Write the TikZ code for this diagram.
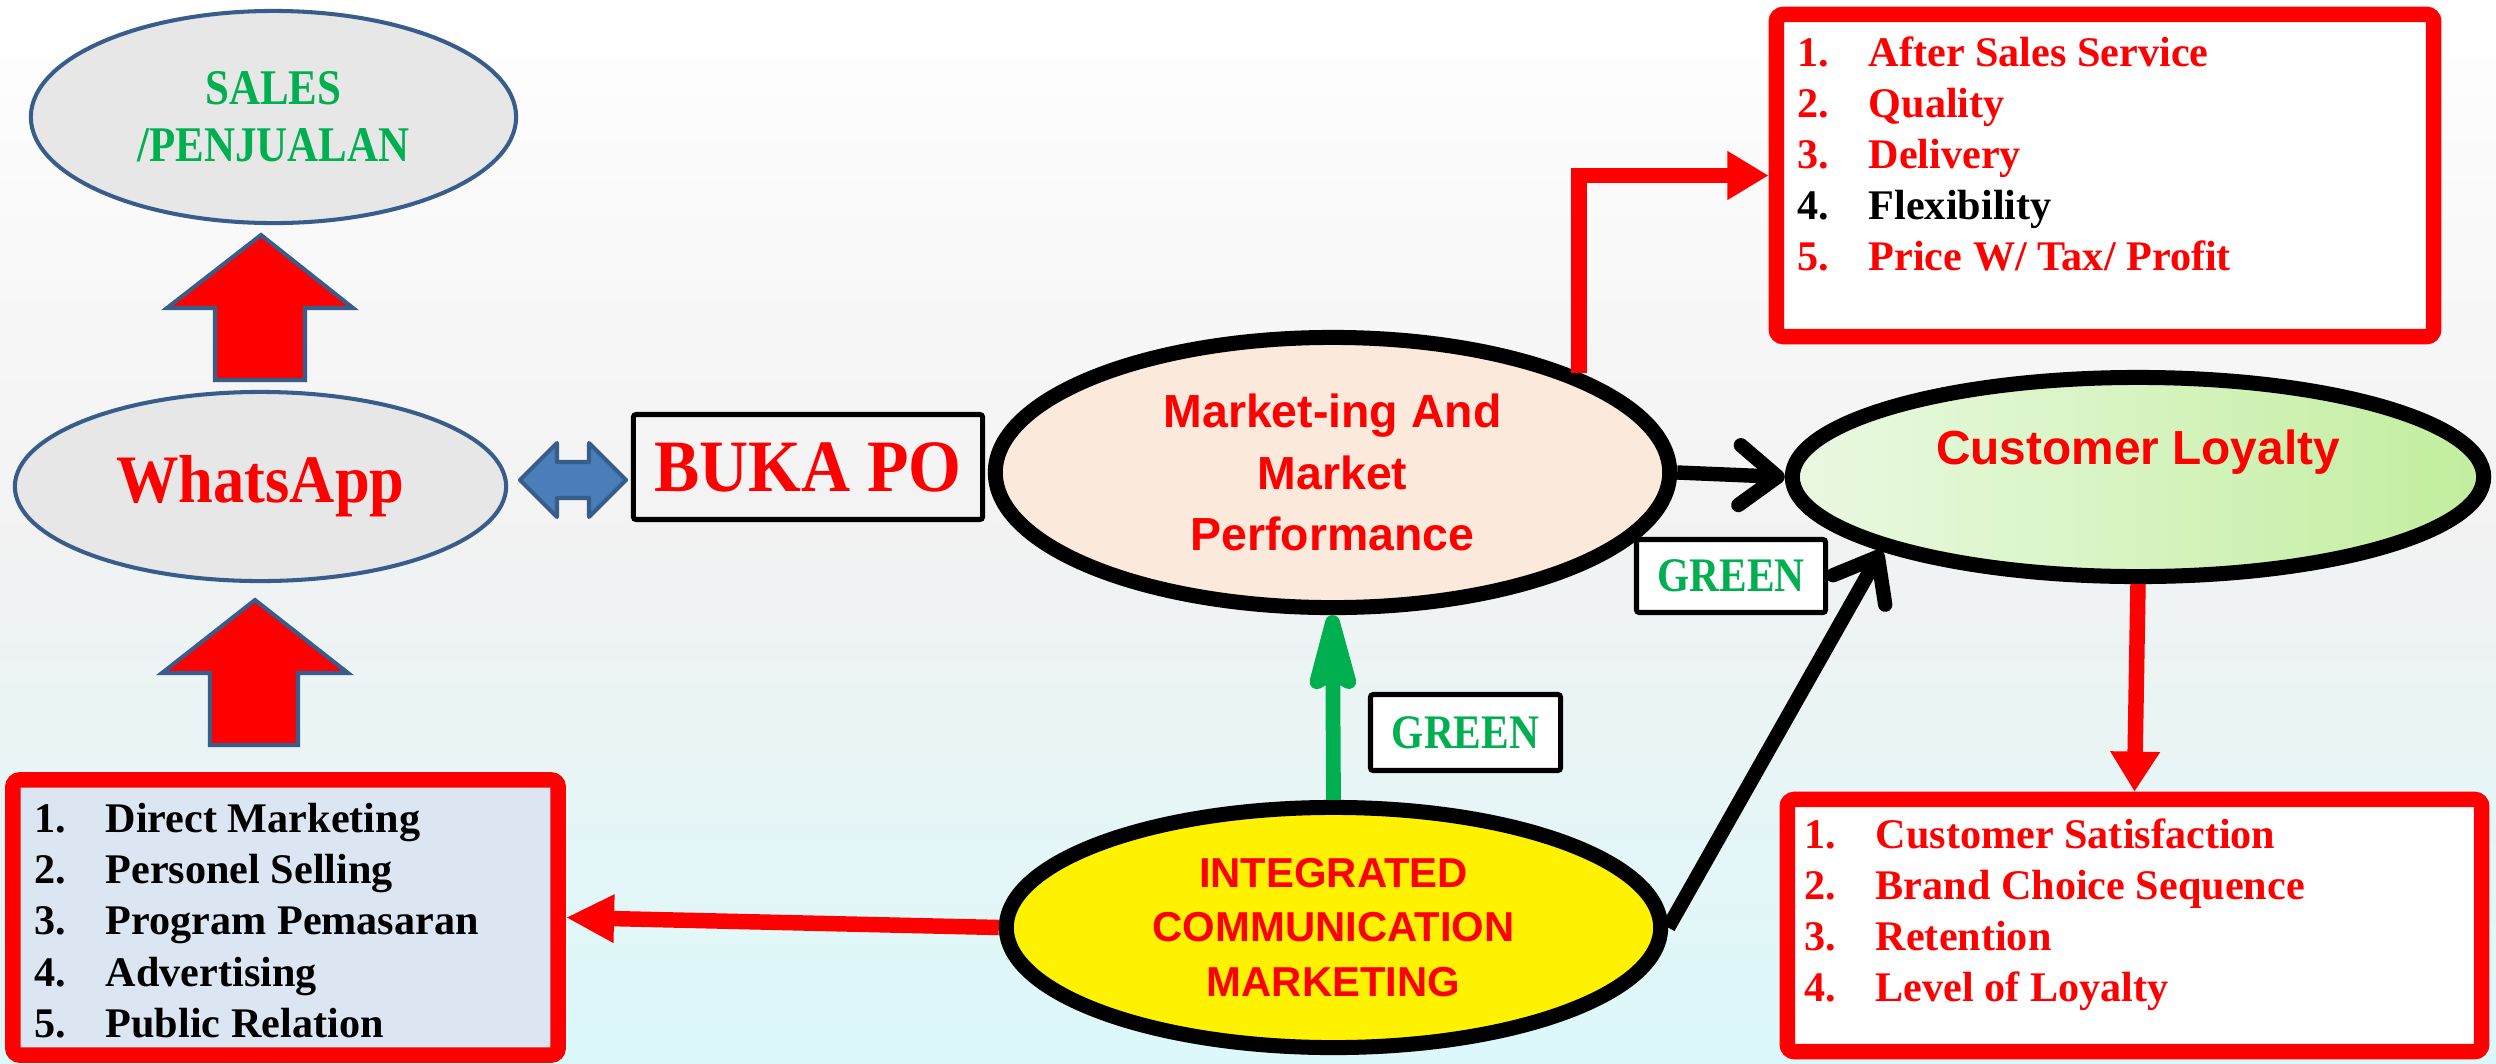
\documentclass[tikz,border=0pt]{standalone}
\usepackage{fontspec}
\setmainfont{Liberation Serif}
\setsansfont{Liberation Sans}
\newfontfamily\condA{Liberation Serif}[FakeStretch=0.86]
\newfontfamily\condB{Liberation Serif}[FakeStretch=0.92]
\usetikzlibrary{shapes.geometric,arrows.meta}
\definecolor{myred}{RGB}{255,0,0}
\definecolor{mygreen}{RGB}{0,176,80}
\definecolor{edgeblue}{RGB}{56,93,138}
\definecolor{fillblue}{RGB}{74,126,187}
\definecolor{ovalgray}{RGB}{231,231,231}
\definecolor{peach}{RGB}{251,234,219}
\definecolor{boxblue}{RGB}{220,230,242}
\definecolor{clleft}{RGB}{234,249,226}
\definecolor{clright}{RGB}{194,238,158}
\definecolor{bgtop}{RGB}{255,255,255}
\definecolor{bgmid}{RGB}{242,242,242}
\definecolor{bgbot}{RGB}{220,248,250}
\begin{document}
\begin{tikzpicture}[x=0.01cm,y=-0.01cm,
  grayoval/.style={ellipse, draw=edgeblue, line width=1.15pt, fill=ovalgray, inner sep=0pt, align=center},
  bigoval/.style={ellipse, draw=black, line width=4.27pt, inner sep=0pt, align=center},
  redbox/.style={draw=myred, line width=4.4pt, rounded corners=2pt, inner sep=0pt},
  labelbox/.style={draw=black, line width=1.45pt, fill=white, inner sep=0pt, rounded corners=0.8pt},
  blockarrow/.style={draw=edgeblue, fill=myred, line width=1.15pt, line join=miter},
  dblarrow/.style={draw=edgeblue, fill=fillblue, line width=1.15pt, line join=round},
  redline/.style={draw=myred, line width=4.4pt},
  blackarrow/.style={draw=black, line width=4.1pt, -{Straight Barb[length=10.8pt,width=17pt,round]}},
  greenarrow/.style={draw=mygreen, line width=4.2pt, -{Stealth[length=29pt,width=15pt,inset=4pt,round]}},
  listtext/.style={font=\bfseries\fontsize{12}{14.5}\selectfont, anchor=base west, inner sep=0pt},
  greentext/.style={font=\condA\bfseries\fontsize{13.7}{16}\selectfont, text=mygreen}
]
% background: white at the top, light grey in the middle, light cyan at the bottom
\useasboundingbox (0,0) rectangle (2496,1063);
\foreach \i in {0,...,52} {
  \pgfmathsetmacro\ya{\i*20.06}
  \pgfmathsetmacro\yb{\ya+21.5}
  \pgfmathtruncatemacro\pa{max(0,100-\i*100/26)}
  \pgfmathtruncatemacro\pb{max(0,(\i-26)*100/26)}
  \ifnum\i<26
    \fill[bgtop!\pa!bgmid] (0,\ya) rectangle (2496,\yb);
  \else
    \fill[bgbot!\pb!bgmid] (0,\ya) rectangle (2496,\yb);
  \fi
}

% left column ovals
\node[grayoval, minimum width=4.85cm, minimum height=2.12cm, text=mygreen,
      font=\condA\bfseries\fontsize{14.2}{16.2}\selectfont] (sales) at (273.5,117) {SALES\\/PENJUALAN};
\node[grayoval, minimum width=4.91cm, minimum height=1.89cm, text=myred,
      font=\condB\bfseries\fontsize{19.3}{22}\selectfont] (wa) at (260.5,486.5) {WhatsApp};

% block arrows
\draw[blockarrow] (261,235) -- (353,308) -- (305,308) -- (305,380) -- (215,380) -- (215,308) -- (167,308) -- cycle;
\draw[blockarrow] (255,600) -- (348,673) -- (298,673) -- (298,745) -- (210,745) -- (210,673) -- (162,673) -- cycle;

% double arrow
\draw[dblarrow] (520,480) -- (557,443) -- (557,462) -- (589,462) -- (589,443) -- (626,480)
  -- (589,517) -- (589,498) -- (557,498) -- (557,517) -- cycle;

% BUKA PO
\node[draw=black, line width=1.45pt, inner sep=0pt, rounded corners=0.8pt, minimum width=3.49cm, minimum height=1.05cm,
      text=myred, font=\condB\bfseries\fontsize{21}{24}\selectfont] (buka) at (808,467) {BUKA PO};

% big ovals
\node[bigoval, fill=peach, minimum width=6.74cm, minimum height=2.70cm, text=myred,
      font=\sffamily\bfseries\fontsize{13.2}{17.6}\selectfont] (mkt) at (1332.5,472.5) {Market-ing And\\Market\\Performance};
\node[bigoval, fill=yellow, minimum width=6.54cm, minimum height=2.40cm, text=myred,
      font=\sffamily\bfseries\fontsize{11.9}{15.6}\selectfont] (icm) at (1333.5,927.5) {INTEGRATED\\COMMUNICATION\\MARKETING};
\node[bigoval, left color=clleft, right color=clright, minimum width=6.91cm, minimum height=1.99cm, text=myred,
      font=\sffamily\bfseries\fontsize{13.6}{16}\selectfont] (cl) at (2138,477) {\raisebox{0.13cm}[0pt][0pt]{Customer Loyalty}};

% boxes
\node[redbox, fill=white, minimum width=6.57cm, minimum height=3.22cm] (trbox) at (2105,175.5) {};
\node[redbox, fill=white, minimum width=6.94cm, minimum height=2.52cm] (brbox) at (2134.5,925.5) {};
\node[redbox, fill=boxblue, minimum width=5.45cm, minimum height=2.75cm] (lbbox) at (285.5,917.5) {};

% GREEN labels
\node[labelbox, greentext, minimum width=1.89cm, minimum height=0.73cm] (g1) at (1731,576) {GREEN};
\node[labelbox, greentext, minimum width=1.90cm, minimum height=0.76cm] (g2) at (1465.5,732.5) {GREEN};

% list texts top right
\node[listtext, text=myred] (tr1) at (1797,66) {\makebox[0.71cm][l]{1.}After Sales Service};
\node[listtext, text=myred] (tr2) at (1797,117) {\makebox[0.71cm][l]{2.}Quality};
\node[listtext, text=myred] (tr3) at (1797,168) {\makebox[0.71cm][l]{3.}Delivery};
\node[listtext, text=black] (tr4) at (1797,219) {\makebox[0.71cm][l]{4.}Flexibility};
\node[listtext, text=myred] (tr5) at (1797,270) {\makebox[0.71cm][l]{5.}Price W/ Tax/ Profit};

% list texts bottom right
\node[listtext, text=myred] (br1) at (1804,848) {\makebox[0.71cm][l]{1.}Customer Satisfaction};
\node[listtext, text=myred] (br2) at (1804,899) {\makebox[0.71cm][l]{2.}Brand Choice Sequence};
\node[listtext, text=myred] (br3) at (1804,950) {\makebox[0.71cm][l]{3.}Retention};
\node[listtext, text=myred] (br4) at (1804,1001) {\makebox[0.71cm][l]{4.}Level of Loyalty};

% list texts bottom left
\node[listtext, text=black] (bl1) at (34,832) {\makebox[0.71cm][l]{1.}Direct Marketing};
\node[listtext, text=black] (bl2) at (34,883) {\makebox[0.71cm][l]{2.}Personel Selling};
\node[listtext, text=black] (bl3) at (34,934) {\makebox[0.71cm][l]{3.}Program Pemasaran};
\node[listtext, text=black] (bl4) at (34,986) {\makebox[0.71cm][l]{4.}Advertising};
\node[listtext, text=black] (bl5) at (34,1037) {\makebox[0.71cm][l]{5.}Public Relation};

% connectors
\draw[redline, -{Triangle[length=11.7pt,width=13.1pt]}] (mkt.22) |- (trbox.west);
\draw[redline, -{Triangle[length=11.4pt,width=13.4pt]}] (cl.south) -- (brbox.north);
\draw[redline, -{Triangle[length=13.7pt,width=12.8pt]}] (icm.west) -- (lbbox.east);
\draw[blackarrow] (mkt.east) -- (cl.west);
\draw[blackarrow] (icm.east) -- (cl.196);
\draw[greenarrow] (icm.north) -- (mkt.south);
\end{tikzpicture}
\end{document}
